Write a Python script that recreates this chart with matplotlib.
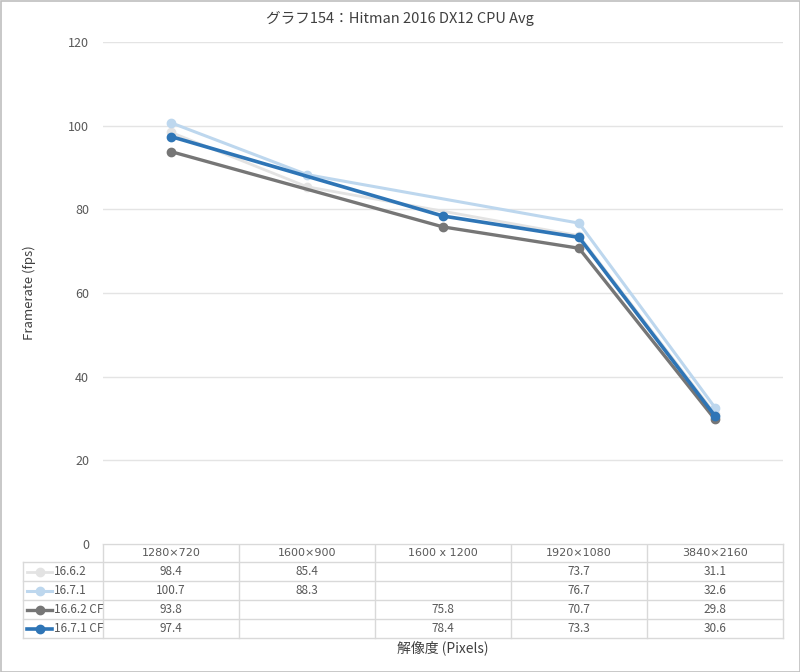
import numpy as np
import matplotlib
matplotlib.use("Agg")
from matplotlib import pyplot as plt
from matplotlib.patches import Rectangle

plt.rcParams['font.family'] = ['Noto Sans CJK JP', 'DejaVu Sans']

categories = ['1280×720', '1600×900', '1600 x 1200', '1920×1080', '3840×2160']
series_names = ['16.6.2', '16.7.1', '16.6.2 CF', '16.7.1 CF']
v_1662 = [98.4, 85.4, None, 73.7, 31.1]
v_1671 = [100.7, 88.3, None, 76.7, 32.6]
v_1662cf = [93.8, None, 75.8, 70.7, 29.8]
v_1671cf = [97.4, None, 78.4, 73.3, 30.6]
y_ticks = [0, 20, 40, 60, 80, 100, 120]

colors = ['#e3e3e3', '#bdd7ee', '#767676', '#2e75b6']
widths = [2.0, 2.2, 2.4, 2.6]
values = [v_1662, v_1671, v_1662cf, v_1671cf]

W, H = 800, 672
fig = plt.figure(figsize=(W / 100, H / 100), dpi=100)

# main plot area (pixel layout)
left, right, top, bottom = 103, 783, 42, 544
ax = fig.add_axes([left / W, 1 - bottom / H, (right - left) / W, (bottom - top) / H])
ax.set_xlim(-0.5, len(categories) - 0.5)
ax.set_ylim(0, 120)
ax.set_yticks(y_ticks)
ax.set_xticks([])
for y in y_ticks:
    ax.axhline(y, color='#e4e4e4', lw=1, zorder=0)
for s in ax.spines.values():
    s.set_visible(False)
ax.tick_params(axis='y', length=0, pad=10, labelsize=9, labelcolor='#595959')

for name, vals, c, lw in zip(series_names, values, colors, widths):
    x = [i for i, v in enumerate(vals) if v is not None]
    y = [v for v in vals if v is not None]
    ax.plot(x, y, color=c, lw=lw, marker='o', markersize=6, label=name,
            solid_capstyle='round')

ax.set_ylabel('Framerate (fps)', fontsize=9.5, color='#404040')
ax.yaxis.set_label_coords((36 - left) / (right - left), 0.5)

# overlay for the data table, title and border
ov = fig.add_axes([0, 0, 1, 1], zorder=-1)
ov.set_xlim(0, W)
ov.set_ylim(H, 0)
ov.axis('off')
ov.add_patch(Rectangle((0.5, 0.5), W - 1, H - 1, fill=False, ec='#bfbfbf', lw=1.2))

fig.text(0.5, 1 - 18 / H, 'グラフ154：Hitman 2016 DX12 CPU Avg', ha='center', va='center',
         fontsize=10.5, color='#404040')

col_w = (right - left) / len(categories)
rows_y = [544, 562, 581, 600, 619, 638]
line_c = '#d9d9d9'
ov.plot([left, right], [rows_y[0], rows_y[0]], color=line_c, lw=1)
for yy in rows_y[1:]:
    ov.plot([23, right], [yy, yy], color=line_c, lw=1)
ov.plot([23, 23], [rows_y[1], rows_y[-1]], color=line_c, lw=1)
for i in range(len(categories) + 1):
    xx = left + i * col_w
    ov.plot([xx, xx], [rows_y[0], rows_y[-1]], color=line_c, lw=1)

for i, cat in enumerate(categories):
    ov.text(left + (i + 0.5) * col_w, (rows_y[0] + rows_y[1]) / 2, cat, ha='center',
            va='center', fontsize=8, color='#595959', family=['DejaVu Sans'])
for r, (name, vals, c, lw) in enumerate(zip(series_names, values, colors, widths)):
    yc = (rows_y[r + 1] + rows_y[r + 2]) / 2
    ov.plot([27, 52], [yc, yc], color=c, lw=lw)
    ov.plot([39.5], [yc], marker='o', color=c, markersize=6)
    ov.text(54, yc, name, ha='left', va='center', fontsize=8.5, color='#595959')
    for i, v in enumerate(vals):
        if v is not None:
            ov.text(left + (i + 0.5) * col_w, yc, f'{v:.1f}', ha='center', va='center',
                    fontsize=8.5, color='#595959')

fig.text(443 / W, 1 - 648 / H, '解像度 (Pixels)', ha='center', va='center',
         fontsize=10, color='#404040')

fig.savefig('out.png', dpi=100, facecolor='white')
